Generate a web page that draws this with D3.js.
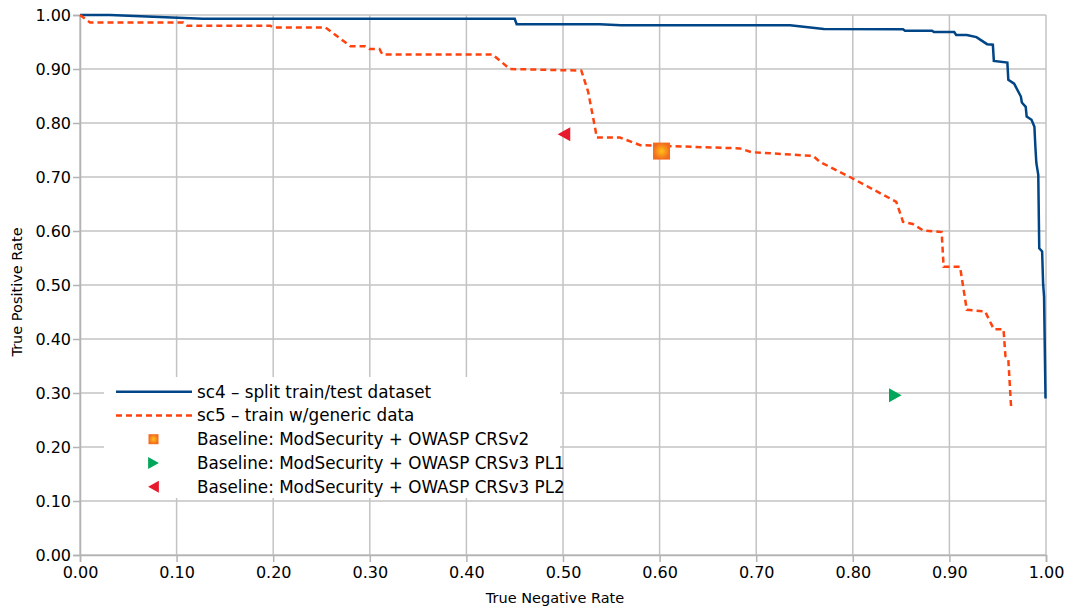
<!DOCTYPE html>
<html>
<head>
<meta charset="utf-8">
<script src="https://cdn.jsdelivr.net/npm/d3@7"></script>
<style>
  body { margin: 0; background: #fff; }
  text { font-family: "DejaVu Sans", sans-serif; fill: #000; }
</style>
</head>
<body>
<div id="chart"></div>
<script>
// sc4 – split train/test dataset (TNR, TPR)
var sc4TNR = [0, 0.031, 0.127, 0.450, 0.452, 0.538, 0.56, 0.735, 0.77, 0.852, 0.854, 0.882, 0.884, 0.905, 0.907,
  0.918, 0.928, 0.939, 0.945, 0.946, 0.960, 0.961, 0.967, 0.974, 0.975, 0.979, 0.980, 0.985, 0.988, 0.989,
  0.990, 0.992, 0.993, 0.996, 0.997, 0.998, 0.9995];
var sc4TPR = [1.0, 1.0, 0.993, 0.993, 0.983, 0.983, 0.981, 0.981, 0.974, 0.9735, 0.971, 0.971, 0.9685, 0.9685, 0.963,
  0.963, 0.959, 0.946, 0.945, 0.915, 0.912, 0.880, 0.873, 0.849, 0.838, 0.830, 0.812, 0.806, 0.793, 0.756,
  0.726, 0.704, 0.568, 0.562, 0.503, 0.478, 0.29];

// sc5 – train w/generic data
var sc5TNR = [0, 0.0104, 0.107, 0.111, 0.197, 0.20, 0.254, 0.28, 0.295, 0.30, 0.31, 0.313, 0.427, 0.445, 0.519,
  0.526, 0.533, 0.535, 0.559, 0.580, 0.683, 0.695, 0.759, 0.766, 0.797, 0.845, 0.852, 0.862, 0.873, 0.892,
  0.894, 0.911, 0.918, 0.937, 0.946, 0.956, 0.958, 0.961, 0.964];
var sc5TPR = [1.0, 0.986, 0.986, 0.980, 0.980, 0.977, 0.977, 0.942, 0.942, 0.937, 0.937, 0.927, 0.927, 0.900, 0.897,
  0.858, 0.793, 0.773, 0.773, 0.759, 0.753, 0.746, 0.739, 0.728, 0.700, 0.654, 0.617, 0.613, 0.601, 0.598,
  0.534, 0.534, 0.454, 0.451, 0.418, 0.418, 0.3685, 0.362, 0.27];

// baselines
var baseNames = ["Baseline: ModSecurity + OWASP CRSv2", "Baseline: ModSecurity + OWASP CRSv3 PL1", "Baseline: ModSecurity + OWASP CRSv3 PL2"];
var baseTNR = [0.602, 0.844, 0.501];
var baseTPR = [0.748, 0.296, 0.779];

var lineNames = ["sc4 – split train/test dataset", "sc5 – train w/generic data"];
var ticks = [0, 0.1, 0.2, 0.3, 0.4, 0.5, 0.6, 0.7, 0.8, 0.9, 1.0];

var W = 1068, H = 608;
var margin = { top: 15, right: 22, bottom: 53, left: 80 },
  width = W - margin.left - margin.right,
  height = H - margin.top - margin.bottom;

var svg = d3.select("#chart").append("svg")
  .attr("width", W)
  .attr("height", H);

var defs = svg.append("defs");
var grad = defs.append("radialGradient").attr("id", "sqGrad");
grad.append("stop").attr("offset", "0%").attr("stop-color", "#ffbf1a");
grad.append("stop").attr("offset", "100%").attr("stop-color", "#f26a1e");

var g = svg.append("g")
  .attr("transform", "translate(" + margin.left + "," + margin.top + ")");

var x = d3.scaleLinear().domain([0, 1]).range([0, width]);
var y = d3.scaleLinear().domain([0, 1]).range([height, 0]);

// grid
g.append("g").selectAll("line").data(ticks).enter().append("line")
  .attr("x1", d => x(d)).attr("x2", d => x(d))
  .attr("y1", 0).attr("y2", height)
  .attr("stroke", "#c3c3c3").attr("stroke-width", 1.5);
g.append("g").selectAll("line").data(ticks).enter().append("line")
  .attr("x1", 0).attr("x2", width)
  .attr("y1", d => y(d)).attr("y2", d => y(d))
  .attr("stroke", "#c3c3c3").attr("stroke-width", 1.5);

// axes
var xAxis = g.append("g")
  .attr("transform", "translate(0," + height + ")")
  .call(d3.axisBottom(x).tickValues(ticks).tickFormat(d3.format(".2f")).tickSize(7).tickPadding(5));
var yAxis = g.append("g")
  .call(d3.axisLeft(y).tickValues(ticks).tickFormat(d3.format(".2f")).tickSize(7).tickPadding(2));
[xAxis, yAxis].forEach(function (a) {
  a.select(".domain").attr("stroke", "#b3b3b3").attr("stroke-width", 1.5);
  a.selectAll(".tick line").attr("stroke", "#b3b3b3").attr("stroke-width", 1.5);
  a.selectAll(".tick text").attr("font-size", 16).attr("font-family", "DejaVu Sans").attr("fill", "#000");
});

// curves
var line = d3.line().x(d => x(d[0])).y(d => y(d[1]));
g.append("path")
  .datum(d3.zip(sc4TNR, sc4TPR))
  .attr("d", line)
  .attr("fill", "none")
  .attr("stroke", "#004586")
  .attr("stroke-width", 2.5);
g.append("path")
  .datum(d3.zip(sc5TNR, sc5TPR))
  .attr("d", line)
  .attr("fill", "none")
  .attr("stroke", "#ff420e")
  .attr("stroke-width", 2.5)
  .attr("stroke-dasharray", "6,4");

// markers
function drawMarker(sel, i, cx, cy, s) {
  if (i == 0) {
    sel.append("rect")
      .attr("x", cx - s / 2).attr("y", cy - s / 2)
      .attr("width", s).attr("height", s)
      .attr("fill", "url(#sqGrad)");
  } else if (i == 1) {
    sel.append("path")
      .attr("d", "M" + (cx - s * 0.45) + "," + (cy - s / 2) + "L" + (cx + s * 0.45) + "," + cy + "L" + (cx - s * 0.45) + "," + (cy + s / 2) + "Z")
      .attr("fill", "#00a65a");
  } else {
    sel.append("path")
      .attr("d", "M" + (cx + s * 0.45) + "," + (cy - s / 2) + "L" + (cx - s * 0.45) + "," + cy + "L" + (cx + s * 0.45) + "," + (cy + s / 2) + "Z")
      .attr("fill", "#e8192c");
  }
}
var sizes = [17, 14, 14];
baseNames.forEach(function (n, i) {
  drawMarker(g, i, x(baseTNR[i]), y(baseTPR[i]), sizes[i]);
});

// legend
var leg = svg.append("g");
leg.append("rect")
  .attr("x", 104).attr("y", 377)
  .attr("width", 456).attr("height", 121)
  .attr("fill", "#fff");
var rowY = function (i) { return 391.7 + i * 23.75; };
lineNames.forEach(function (n, i) {
  leg.append("line")
    .attr("x1", 116).attr("x2", 192)
    .attr("y1", rowY(i)).attr("y2", rowY(i))
    .attr("stroke", i == 0 ? "#004586" : "#ff420e")
    .attr("stroke-width", 2.5)
    .attr("stroke-dasharray", i == 0 ? null : "6,4");
});
baseNames.forEach(function (n, i) {
  drawMarker(leg, i, 153.5, rowY(i + 2), i == 0 ? 10 : 12);
});
lineNames.concat(baseNames).forEach(function (n, i) {
  leg.append("text")
    .attr("x", 197).attr("y", rowY(i))
    .attr("dy", "0.36em")
    .attr("font-size", 16.8)
    .text(n);
});

// axis titles
svg.append("text")
  .attr("x", 555).attr("y", 603)
  .attr("text-anchor", "middle")
  .attr("font-size", 14.5)
  .text("True Negative Rate");
svg.append("text")
  .attr("transform", "translate(22,292) rotate(-90)")
  .attr("text-anchor", "middle")
  .attr("font-size", 14.5)
  .text("True Positive Rate");
</script>
</body>
</html>
